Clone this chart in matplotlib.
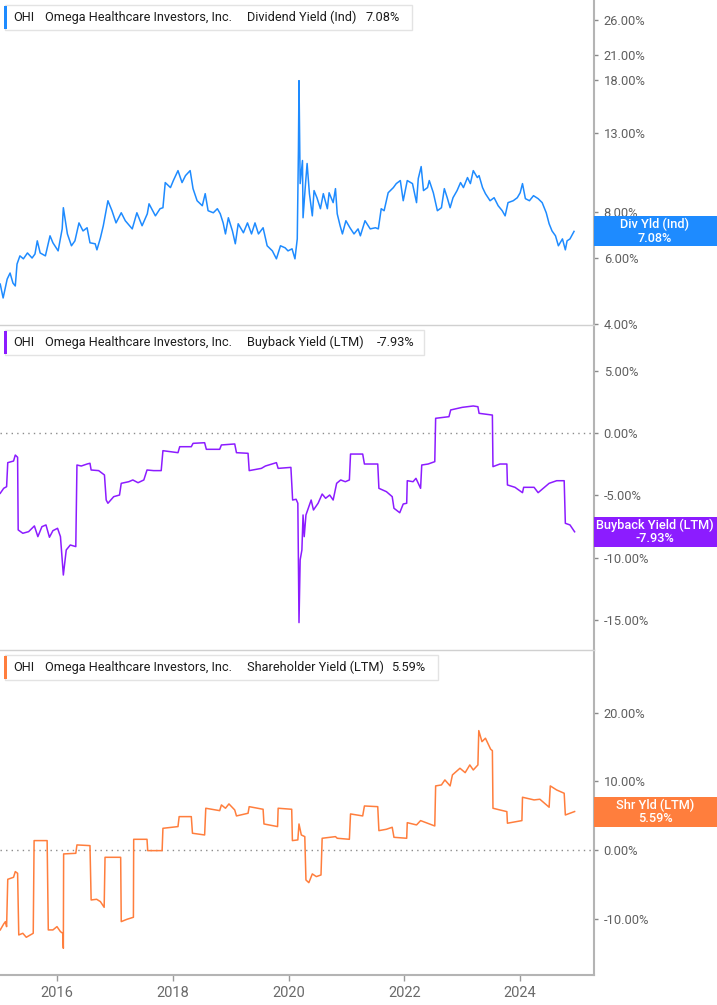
import matplotlib
matplotlib.use('Agg')
import matplotlib.pyplot as plt
from matplotlib.patches import Rectangle

W, H = 717, 1005

# ---- data ----
div_year = [2015.02, 2015.07, 2015.14, 2015.19, 2015.24, 2015.28, 2015.31, 2015.36, 2015.42, 2015.49,
            2015.57, 2015.62, 2015.66, 2015.71, 2015.80, 2015.88, 2015.93, 2016.02, 2016.09, 2016.11,
            2016.18, 2016.25, 2016.31, 2016.38, 2016.45, 2016.52, 2016.57, 2016.66, 2016.69, 2016.75,
            2016.80, 2016.88, 2016.95, 2017.02, 2017.11, 2017.18, 2017.30, 2017.38, 2017.47, 2017.56,
            2017.59, 2017.70, 2017.78, 2017.83, 2017.87, 2017.96, 2018.01, 2018.09, 2018.16, 2018.22,
            2018.30, 2018.35, 2018.42, 2018.51, 2018.56, 2018.61, 2018.70, 2018.77, 2018.82, 2018.87,
            2018.91, 2018.96, 2019.03, 2019.08, 2019.13, 2019.22, 2019.29, 2019.36, 2019.42, 2019.48,
            2019.56, 2019.63, 2019.72, 2019.79, 2019.86, 2019.94, 2019.99, 2020.06, 2020.11, 2020.15,
            2020.17, 2020.18, 2020.20, 2020.24, 2020.25, 2020.29, 2020.32, 2020.36, 2020.41, 2020.44,
            2020.49, 2020.55, 2020.60, 2020.67, 2020.70, 2020.77, 2020.81, 2020.84, 2020.89, 2020.93,
            2020.99, 2021.06, 2021.13, 2021.20, 2021.24, 2021.32, 2021.41, 2021.50, 2021.55, 2021.60,
            2021.65, 2021.72, 2021.81, 2021.86, 2021.93, 2021.98, 2022.05, 2022.14, 2022.21, 2022.24,
            2022.29, 2022.33, 2022.40, 2022.43, 2022.50, 2022.57, 2022.64, 2022.69, 2022.74, 2022.79,
            2022.84, 2022.91, 2022.97, 2023.02, 2023.09, 2023.14, 2023.19, 2023.26, 2023.29, 2023.35,
            2023.40, 2023.48, 2023.55, 2023.62, 2023.69, 2023.74, 2023.79, 2023.88, 2023.95, 2024.00,
            2024.04, 2024.09, 2024.16, 2024.23, 2024.31, 2024.38, 2024.45, 2024.50, 2024.55, 2024.61,
            2024.66, 2024.73, 2024.78, 2024.81, 2024.86, 2024.93]
div_yield = [5.12, 4.70, 5.28, 5.48, 5.15, 5.06, 5.79, 6.09, 5.98, 6.20,
             6.01, 6.16, 6.68, 6.20, 6.09, 6.89, 6.60, 6.28, 7.19, 8.19,
             6.97, 6.48, 6.68, 7.46, 7.10, 7.24, 6.60, 6.56, 6.32, 6.80,
             7.33, 8.55, 8.04, 7.46, 7.94, 7.56, 7.19, 7.94, 7.33, 7.89,
             8.39, 7.79, 8.14, 8.19, 9.56, 9.27, 9.68, 10.29, 9.56, 9.98,
             10.29, 9.21, 8.55, 8.29, 8.93, 8.04, 7.94, 8.14, 7.89, 7.46,
             6.97, 7.70, 7.10, 6.56, 7.42, 7.02, 7.46, 6.97, 7.46, 6.97,
             7.24, 6.48, 6.28, 5.98, 6.48, 6.40, 6.28, 6.36, 5.98, 6.76,
             11.65, 17.9, 9.50, 10.95, 7.70, 9.38, 10.75, 8.93, 7.79, 9.10,
             8.71, 8.14, 8.93, 8.14, 8.98, 8.45, 9.21, 7.89, 7.33, 6.97,
             7.56, 7.24, 6.97, 7.19, 6.89, 7.56, 7.19, 7.24, 7.19, 8.14,
             8.04, 8.98, 9.27, 9.50, 9.68, 8.55, 9.68, 9.50, 8.45, 9.80,
             10.55, 9.10, 9.27, 9.68, 8.98, 8.04, 8.19, 9.21, 8.71, 8.19,
             8.71, 9.10, 9.56, 9.27, 9.86, 9.50, 10.29, 9.86, 9.98, 9.27,
             8.93, 8.55, 8.71, 8.29, 8.04, 7.79, 8.45, 8.55, 8.71, 8.98,
             9.50, 8.66, 8.55, 8.82, 8.66, 8.45, 7.94, 7.42, 7.10, 6.89,
             6.48, 6.76, 6.32, 6.68, 6.76, 7.08]

bb_year = [2015.02, 2015.08, 2015.13, 2015.15, 2015.25, 2015.28, 2015.32, 2015.33, 2015.41, 2015.51,
           2015.61, 2015.67, 2015.74, 2015.81, 2015.87, 2015.93, 2016.01, 2016.06, 2016.11, 2016.16,
           2016.23, 2016.325, 2016.345, 2016.42, 2016.52, 2016.57, 2016.59, 2016.72, 2016.82, 2016.85,
           2016.88, 2016.98, 2017.08, 2017.11, 2017.24, 2017.31, 2017.40, 2017.50, 2017.555, 2017.67,
           2017.80, 2017.83, 2018.09, 2018.12, 2018.32, 2018.35, 2018.55, 2018.58, 2018.81, 2018.84,
           2019.07, 2019.10, 2019.30, 2019.32, 2019.53, 2019.60, 2019.79, 2019.82, 2020.04, 2020.07,
           2020.13, 2020.16, 2020.18, 2020.20, 2020.23, 2020.25, 2020.27, 2020.30, 2020.33, 2020.39,
           2020.43, 2020.51, 2020.58, 2020.64, 2020.71, 2020.77, 2020.83, 2020.90, 2020.98, 2021.05,
           2021.07, 2021.28, 2021.31, 2021.54, 2021.56, 2021.69, 2021.79, 2021.82, 2021.92, 2021.98,
           2022.04, 2022.05, 2022.15, 2022.20, 2022.28, 2022.30, 2022.41, 2022.525, 2022.54, 2022.77,
           2022.80, 2023.00, 2023.19, 2023.27, 2023.29, 2023.52, 2023.53, 2023.65, 2023.77, 2023.78,
           2023.91, 2024.04, 2024.06, 2024.24, 2024.31, 2024.50, 2024.63, 2024.76, 2024.78, 2024.86,
           2024.94]
bb_yield = [-4.84, -4.44, -4.31, -2.38, -2.25, -1.77, -1.95, -7.78, -8.05, -7.92,
            -7.46, -8.32, -7.52, -7.38, -8.37, -7.84, -7.65, -8.32, -11.40, -9.39,
            -8.99, -9.12, -2.57, -2.65, -2.49, -2.43, -2.97, -3.02, -3.37, -5.38,
            -5.64, -5.11, -4.98, -4.04, -3.91, -3.77, -3.99, -3.77, -2.97, -3.02,
            -3.02, -1.42, -1.58, -1.10, -1.10, -0.83, -0.78, -1.31, -1.31, -0.96,
            -0.88, -1.58, -1.63, -3.02, -2.84, -2.65, -2.38, -2.84, -2.76, -5.38,
            -5.32, -5.64, -15.22, -10.19, -9.39, -6.58, -8.32, -6.58, -6.18, -5.38,
            -6.18, -5.64, -4.90, -5.24, -4.98, -5.38, -4.04, -3.77, -3.91, -3.77,
            -1.69, -1.69, -2.49, -2.49, -4.44, -4.71, -5.11, -6.04, -6.40, -5.70,
            -5.64, -3.83, -3.91, -3.64, -4.44, -2.57, -2.49, -2.30, 1.18, 1.31,
            1.85, 2.06, 2.17, 2.11, 1.58, 1.44, -2.70, -2.49, -2.49, -4.17,
            -4.36, -4.79, -4.36, -4.36, -4.79, -4.04, -3.83, -3.83, -7.25, -7.38,
            -7.93]

shr_year = [2015.02, 2015.08, 2015.11, 2015.13, 2015.15, 2015.25, 2015.28, 2015.32, 2015.34, 2015.41,
            2015.47, 2015.54, 2015.59, 2015.605, 2015.83, 2015.85, 2015.93, 2016.00, 2016.06, 2016.10,
            2016.11, 2016.115, 2016.325, 2016.345, 2016.57, 2016.59, 2016.685, 2016.75, 2016.815, 2016.83,
            2017.10, 2017.11, 2017.21, 2017.32, 2017.325, 2017.555, 2017.567, 2017.816, 2017.83, 2018.09,
            2018.11, 2018.32, 2018.34, 2018.55, 2018.57, 2018.81, 2018.84, 2018.91, 2018.97, 2019.07,
            2019.10, 2019.30, 2019.32, 2019.56, 2019.575, 2019.81, 2019.82, 2020.054, 2020.066, 2020.16,
            2020.18, 2020.22, 2020.28, 2020.30, 2020.35, 2020.41, 2020.48, 2020.56, 2020.58, 2020.81,
            2020.84, 2021.05, 2021.07, 2021.28, 2021.31, 2021.54, 2021.56, 2021.69, 2021.79, 2021.82,
            2022.04, 2022.05, 2022.21, 2022.28, 2022.525, 2022.54, 2022.64, 2022.70, 2022.79, 2022.83,
            2022.96, 2023.05, 2023.13, 2023.19, 2023.27, 2023.285, 2023.34, 2023.40, 2023.49, 2023.52,
            2023.53, 2023.65, 2023.77, 2023.78, 2024.03, 2024.04, 2024.24, 2024.34, 2024.50, 2024.52,
            2024.63, 2024.76, 2024.78, 2024.86, 2024.94]
shr_yield = [-11.64, -10.77, -10.43, -11.16, -4.27, -3.98, -3.15, -3.40, -12.37, -12.13,
             -12.71, -12.37, -12.13, 1.36, 1.36, -11.64, -11.64, -11.16, -11.89, -12.13,
             -14.31, -0.58, -0.49, 0.73, 0.63, -7.28, -7.18, -7.52, -8.35, -1.07,
             -1.07, -10.43, -10.09, -9.80, 1.55, 1.55, -0.10, -0.10, 3.15, 3.40,
             4.85, 4.85, 2.43, 2.18, 6.07, 5.72, 6.55, 6.07, 6.70, 5.82,
             4.95, 5.34, 6.30, 5.92, 3.78, 3.40, 6.07, 5.92, 1.36, 1.46,
             3.78, 2.18, 1.94, -4.37, -4.76, -3.49, -3.88, -3.64, 1.70, 1.94,
             1.70, 1.55, 5.24, 4.95, 6.40, 6.30, 2.81, 3.01, 3.30, 1.84,
             1.70, 3.97, 3.64, 4.27, 3.49, 9.32, 9.46, 10.19, 9.32, 10.92,
             11.89, 11.25, 12.37, 11.64, 12.37, 17.37, 15.76, 16.26, 14.66, 14.45,
             6.07, 5.82, 5.58, 3.89, 4.27, 7.67, 7.28, 7.38, 6.22, 9.32,
             8.73, 8.25, 5.09, 5.34, 5.59]

ticker = "OHI"
company = "Omega Healthcare Investors, Inc."
series_names = ["Dividend Yield (Ind)", "Buyback Yield (LTM)", "Shareholder Yield (LTM)"]
badge_names = ["Div Yld (Ind)", "Buyback Yield (LTM)", "Shr Yld (LTM)"]
last_values = [7.08, -7.93, 5.59]
div_ticks = [4, 6, 8, 13, 18, 21, 26]
bb_ticks = [-15, -10, -5, 0, 5]
shr_ticks = [-10, 0, 10, 20]
year_ticks = [2016, 2018, 2020, 2022, 2024]

colors = ["#1E8BFF", "#8C1CFF", "#FF7E3D"]
XMIN, XMAX = 2015.016, 2025.275

fig = plt.figure(figsize=(W / 100, H / 100), dpi=100)
plt.rcParams['font.family'] = ['Roboto', 'DejaVu Sans']


def fx(px):
    return px / W


def fy(py):
    return 1 - py / H


def make_axes(top, bottom):
    ax = fig.add_axes([0, fy(bottom), fx(594), (bottom - top) / H])
    ax.set_xlim(XMIN, XMAX)
    ax.spines['left'].set_visible(False)
    ax.spines['right'].set_color('#b4b4b4')
    ax.spines['right'].set_linewidth(1.5)
    ax.spines['top'].set_color('#d0d0d0')
    ax.spines['top'].set_linewidth(1.0)
    ax.spines['bottom'].set_visible(False)
    ax.yaxis.tick_right()
    ax.tick_params(axis='y', which='major', labelsize=9.3, labelcolor='#5f5f5f',
                   color='#8a8a8a', length=3, width=1, pad=4)
    ax.tick_params(axis='y', which='minor', length=0)
    ax.tick_params(axis='x', bottom=False, labelbottom=False)
    return ax


def pct_labels(ax, ticks):
    ax.set_yticks(ticks)
    ax.set_yticklabels([f"{t:.2f}%" for t in ticks])
    ax.minorticks_off()


def legend_box(top, name, value, color, right):
    cy = top + 12.5
    fig.add_artist(Rectangle((fx(5), fy(top + 25)), fx(right) - fx(5), 25 / H,
                             transform=fig.transFigure, facecolor='white',
                             edgecolor='#e3e3e3', lw=1.0, zorder=5))
    fig.add_artist(Rectangle((fx(4), fy(top + 24)), fx(3), 23 / H,
                             transform=fig.transFigure, facecolor=color,
                             edgecolor='none', zorder=6))
    txt = dict(fontsize=9.2, color='#1c1c1c', va='center', ha='left', zorder=7)
    fig.text(fx(13), fy(cy), ticker, **txt)
    fig.text(fx(45), fy(cy), company, **txt)
    fig.text(fx(247), fy(cy), name, **txt)
    fig.text(fx(right - 47), fy(cy), f"{value:.2f}%", **txt)


def badge(ax, value, label, color):
    disp = ax.transData.transform((XMIN, value))
    cy = H - disp[1]
    fig.add_artist(Rectangle((fx(594), fy(cy + 15)), fx(717) - fx(594), 30 / H,
                             transform=fig.transFigure, facecolor=color,
                             edgecolor='none', zorder=6, clip_on=False))
    fig.text(fx(655), fy(cy), f"{label}\n{value:.2f}%", fontsize=9.2, color='white',
             ha='center', va='center', linespacing=1.0, zorder=7, fontweight='medium')


# ---- panel 1: dividend yield (log scale) ----
ax1 = make_axes(0, 325)
ax1.spines['top'].set_visible(False)
ax1.set_yscale('log')
ax1.set_ylim(3.98, 29.4)
ax1.plot(div_year, div_yield, color=colors[0], lw=1.1)
pct_labels(ax1, div_ticks)

# ---- panel 2: buyback yield ----
ax2 = make_axes(325, 650)
ax2.set_ylim(-17.42, 8.67)
ax2.axhline(0, color='#8c8c8c', lw=1.0, ls=(0, (1, 3)))
ax2.plot(bb_year, bb_yield, color=colors[1], lw=1.1)
pct_labels(ax2, bb_ticks)

# ---- panel 3: shareholder yield ----
ax3 = make_axes(650, 975)
ax3.set_ylim(-18.2, 29.1)
ax3.axhline(0, color='#8c8c8c', lw=1.0, ls=(0, (1, 3)))
ax3.plot(shr_year, shr_yield, color=colors[2], lw=1.1)
pct_labels(ax3, shr_ticks)
ax3.spines['bottom'].set_visible(True)
ax3.spines['bottom'].set_color('#b4b4b4')
ax3.spines['bottom'].set_linewidth(1.5)
ax3.set_xticks(year_ticks)
ax3.set_xticklabels([str(y) for y in year_ticks])
ax3.tick_params(axis='x', bottom=True, labelbottom=True, labelsize=10.5,
                labelcolor='#6a6a6a', color='#9a9a9a', length=4, width=1, pad=4)
for lab in ax3.get_xticklabels():
    lab.set_family(['Liberation Sans Narrow', 'Roboto', 'DejaVu Sans'])

legend_box(5, series_names[0], last_values[0], colors[0], 412)
legend_box(330, series_names[1], last_values[1], colors[1], 424)
legend_box(655, series_names[2], last_values[2], colors[2], 438)

badge(ax1, last_values[0], badge_names[0], colors[0])
badge(ax2, last_values[1], badge_names[1], colors[1])
badge(ax3, last_values[2], badge_names[2], colors[2])

fig.savefig('out.png', dpi=100)
